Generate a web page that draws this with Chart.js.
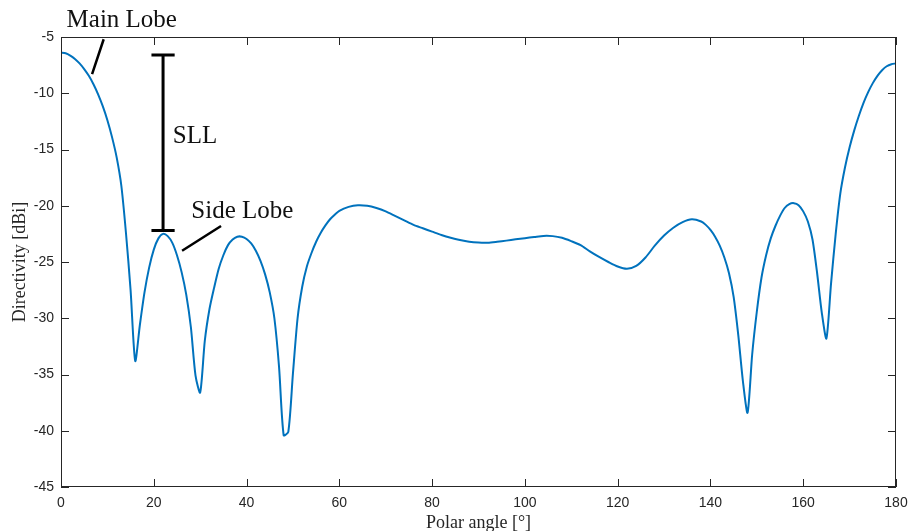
<!DOCTYPE html>
<html>
<head>
<meta charset="utf-8">
<script src="https://cdn.jsdelivr.net/npm/chart.js"></script>
<style>
  html, body { margin: 0; padding: 0; background: #fff; }
  #wrap { width: 909px; height: 531px; position: relative; }
</style>
</head>
<body>
<div id="wrap"><canvas id="myChart"></canvas></div>
<script>
// polar angle (deg) and directivity (dBi)
var angles = [
  0, 1, 2, 3, 4, 5, 6, 7, 8, 9, 10, 11, 12, 13, 14, 15, 16, 17, 18, 19,
  20, 21, 22, 23, 24, 25, 26, 27, 28, 29, 30, 31, 32, 33, 34, 35, 36, 37, 38, 39,
  40, 41, 42, 43, 44, 45, 46, 47, 48, 49, 50, 51, 52, 53, 54, 55, 56, 57, 58, 59,
  60, 62, 64, 66, 68, 70, 72, 74, 76, 78, 80, 82, 84, 86, 88, 90, 92, 94, 96, 98,
  100, 102, 104, 106, 108, 110, 112, 114, 116, 118, 120, 122, 124, 126, 128, 130,
  132, 134, 136, 138, 139, 140, 141, 142, 143, 144, 145, 146, 147, 148, 149, 150,
  151, 152, 153, 154, 155, 156, 157, 158, 159, 160, 161, 162, 163, 164, 165, 166,
  167, 168, 169, 170, 171, 172, 173, 174, 175, 176, 177, 178, 179, 180
];
var directivity = [
  -6.4, -6.45, -6.65, -6.95, -7.35, -7.85, -8.45, -9.2, -10.1, -11.15, -12.4, -13.9, -15.7, -18.2, -22.4, -27.5, -33.8, -30.6, -27.7, -25.5,
  -23.9, -22.9, -22.5, -22.7, -23.3, -24.4, -25.9, -27.9, -30.8, -35.1, -36.6, -32.0, -29.2, -27.3, -25.6, -24.4, -23.5, -23.0, -22.75, -22.75,
  -22.95, -23.35, -24.0, -24.9, -26.1, -27.7, -30.0, -34.3, -40.4, -40.1, -34.9, -30.0, -27.2, -25.4, -24.2, -23.2, -22.4, -21.75, -21.2, -20.8,
  -20.45, -20.1, -19.95, -20.0, -20.2, -20.5, -20.9, -21.3, -21.7, -22.0, -22.3, -22.6, -22.85, -23.05, -23.2, -23.27, -23.28, -23.2, -23.1, -22.98,
  -22.88, -22.78, -22.68, -22.7, -22.85, -23.15, -23.5, -24.05, -24.55, -25.0, -25.4, -25.6, -25.35, -24.6, -23.55, -22.65,
  -21.95, -21.45, -21.2, -21.4, -21.7, -22.15, -22.75, -23.55, -24.6, -26.0, -28.1, -31.5, -35.6, -38.4, -33.2, -29.4,
  -26.4, -24.4, -22.9, -21.8, -20.9, -20.2, -19.85, -19.77, -19.95, -20.5, -21.4, -23.0, -26.0, -29.5, -31.8, -26.9,
  -22.5, -18.9, -16.6, -14.8, -13.3, -12.0, -10.85, -9.9, -9.1, -8.45, -7.95, -7.6, -7.42, -7.35
];
var xTicks = [0, 20, 40, 60, 80, 100, 120, 140, 160, 180];
var yTicks = [-45, -40, -35, -30, -25, -20, -15, -10, -5];

var points = angles.map(function (a, i) { return { x: a, y: directivity[i] }; });

var axisColor = '#262626';
var serif = '"Liberation Serif", "Times New Roman", serif';

// MATLAB-like box with inward ticks, axis titles and the annotations
var matlabBox = {
  id: 'matlabBox',
  afterDraw: function (chart) {
    var ctx = chart.ctx;
    var a = chart.chartArea;
    var xs = chart.scales.x, ys = chart.scales.y;
    ctx.save();
    ctx.strokeStyle = axisColor;
    ctx.lineWidth = 1;
    ctx.strokeRect(a.left + 0.5, a.top + 0.5, a.right - a.left - 1, a.bottom - a.top - 1);
    ctx.beginPath();
    xTicks.forEach(function (v) {
      var px = Math.round(xs.getPixelForValue(v)) + 0.5;
      ctx.moveTo(px, a.bottom); ctx.lineTo(px, a.bottom - 8);
      ctx.moveTo(px, a.top); ctx.lineTo(px, a.top + 8);
    });
    yTicks.forEach(function (v) {
      var py = Math.round(ys.getPixelForValue(v)) + 0.5;
      ctx.moveTo(a.left, py); ctx.lineTo(a.left + 8, py);
      ctx.moveTo(a.right, py); ctx.lineTo(a.right - 8, py);
    });
    ctx.stroke();

    // axis titles
    ctx.fillStyle = axisColor;
    ctx.font = '18px ' + serif;
    ctx.textAlign = 'center';
    ctx.textBaseline = 'middle';
    ctx.fillText('Polar angle [°]', (a.left + a.right) / 2, 523);
    ctx.save();
    ctx.translate(20, (a.top + a.bottom) / 2);
    ctx.rotate(-Math.PI / 2);
    ctx.fillText('Directivity [dBi]', 0, 0);
    ctx.restore();

    // annotations (data coordinates)
    var X = function (v) { return xs.getPixelForValue(v); };
    var Y = function (v) { return ys.getPixelForValue(v); };
    ctx.strokeStyle = '#000';
    ctx.lineWidth = 3;
    ctx.beginPath();
    // SLL bar
    ctx.moveTo(X(22), Y(-6.6)); ctx.lineTo(X(22), Y(-22.2));
    ctx.moveTo(X(19.5), Y(-6.6)); ctx.lineTo(X(24.5), Y(-6.6));
    ctx.moveTo(X(19.5), Y(-22.2)); ctx.lineTo(X(24.5), Y(-22.2));
    ctx.stroke();
    ctx.lineWidth = 2.5;
    ctx.beginPath();
    // pointers
    ctx.moveTo(X(9.2), Y(-5.2)); ctx.lineTo(X(6.7), Y(-8.3));
    ctx.moveTo(X(34.5), Y(-21.8)); ctx.lineTo(X(26.1), Y(-24.0));
    ctx.stroke();

    ctx.fillStyle = '#111';
    ctx.font = '25px ' + serif;
    ctx.textAlign = 'left';
    ctx.textBaseline = 'middle';
    ctx.fillText('Main Lobe', X(1.2), Y(-3.5));
    ctx.fillText('SLL', X(24.1), Y(-13.8));
    ctx.fillText('Side Lobe', X(28.1), Y(-20.5));
    ctx.restore();
  }
};

var ctx = document.getElementById('myChart').getContext('2d');
var myChart = new Chart(ctx, {
  type: 'scatter',
  data: {
    datasets: [{
      label: 'Directivity',
      data: points,
      showLine: true,
      borderColor: '#0072BD',
      borderWidth: 2,
      pointRadius: 0,
      tension: 0.25,
      fill: false
    }]
  },
  options: {
    responsive: true,
    maintainAspectRatio: false,
    animation: false,
    events: [],
    layout: { padding: { top: 37, right: 13, left: 0, bottom: 0 } },
    plugins: {
      legend: { display: false },
      tooltip: { enabled: false }
    },
    scales: {
      x: {
        type: 'linear',
        min: 0, max: 180,
        afterBuildTicks: function (axis) { axis.ticks = xTicks.map(function (v) { return { value: v }; }); },
        afterFit: function (axis) { axis.height = 44; axis.paddingLeft = 0; axis.paddingRight = 0; },
        grid: { display: false, drawTicks: false },
        border: { display: false },
        ticks: { color: axisColor, padding: 8, font: { family: '"Liberation Sans", Arial, sans-serif', size: 14 } }
      },
      y: {
        type: 'linear',
        min: -45, max: -5,
        afterBuildTicks: function (axis) { axis.ticks = yTicks.map(function (v) { return { value: v }; }); },
        afterFit: function (axis) { axis.width = 61; axis.paddingTop = 0; axis.paddingBottom = 0; },
        grid: { display: false, drawTicks: false },
        border: { display: false },
        ticks: { color: axisColor, padding: 7, font: { family: '"Liberation Sans", Arial, sans-serif', size: 14 } }
      }
    }
  },
  plugins: [matlabBox]
});
</script>
</body>
</html>
